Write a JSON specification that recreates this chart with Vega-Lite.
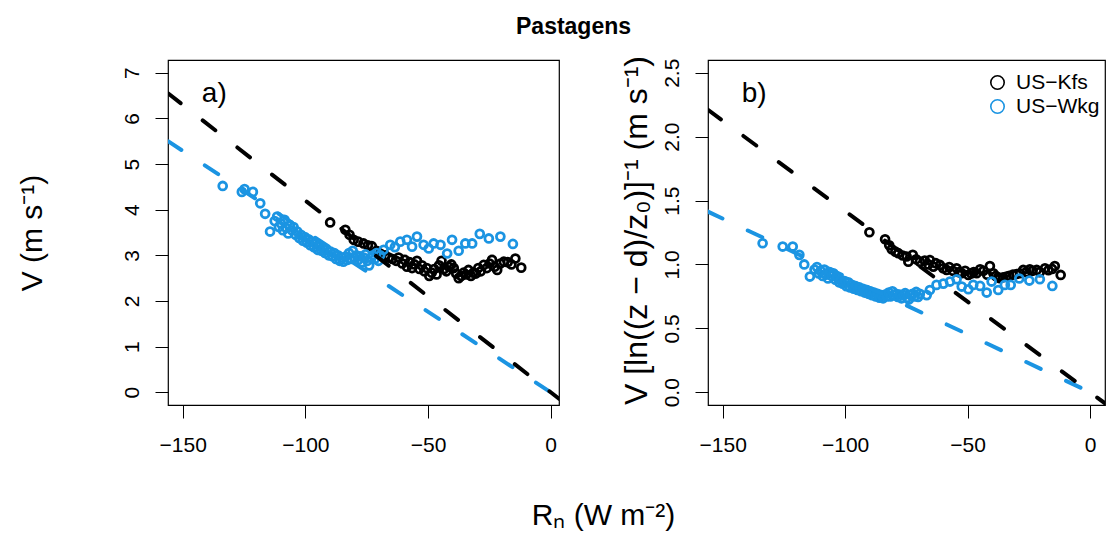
{
  "$schema": "https://vega.github.io/schema/vega-lite/v6.json",
  "autosize": {"type": "none"},
  "padding": {"left": 168, "top": 60, "right": 942, "bottom": 473},
  "background": "white",
  "title": {"text": "Pastagens", "anchor": "start", "frame": "group", "dx": 348, "dy": 20, "offset": 5, "baseline": "alphabetic", "fontSize": 23, "fontWeight": "bold", "font": "Liberation Sans", "color": "black"},
  "config": {
    "font": "Liberation Sans",
    "view": {"stroke": "black", "strokeWidth": 1.2},
    "axis": {"grid": false, "domain": false, "tickColor": "black", "tickSize": 13, "tickWidth": 1, "labelColor": "black", "labelFontSize": 21, "labelFlush": false, "labelOverlap": false, "titleColor": "black", "titleFontWeight": "normal", "titleFontSize": 30}
  },
  "bounds": "flush",
  "spacing": 149,
  "resolve": {"scale": {"x": "independent", "y": "independent", "color": "independent", "stroke": "independent"}, "legend": {"color": "independent"}},
  "datasets": {
    "pa": [
      {"site":"US−Kfs","x":-89.9,"y":3.72},{"site":"US−Kfs","x":-83.7,"y":3.56},{"site":"US−Kfs","x":-82,"y":3.45},{"site":"US−Kfs","x":-80.3,"y":3.34},{"site":"US−Kfs","x":-78.5,"y":3.3},{"site":"US−Kfs","x":-76.3,"y":3.26},{"site":"US−Kfs","x":-74.5,"y":3.22},{"site":"US−Kfs","x":-72.9,"y":3.2},{"site":"US−Kfs","x":-71,"y":3.1},{"site":"US−Kfs","x":-69.5,"y":3.04},{"site":"US−Kfs","x":-67.5,"y":3.0},{"site":"US−Kfs","x":-66,"y":2.95},{"site":"US−Kfs","x":-64.5,"y":2.92},{"site":"US−Kfs","x":-63,"y":2.88},{"site":"US−Kfs","x":-62,"y":2.95},{"site":"US−Kfs","x":-60.5,"y":2.82},{"site":"US−Kfs","x":-59.5,"y":2.9},{"site":"US−Kfs","x":-58.6,"y":2.75},{"site":"US−Kfs","x":-57.5,"y":2.85},{"site":"US−Kfs","x":-56.5,"y":2.72},{"site":"US−Kfs","x":-55.5,"y":2.8},{"site":"US−Kfs","x":-54.5,"y":2.88},{"site":"US−Kfs","x":-53.5,"y":2.7},{"site":"US−Kfs","x":-52.5,"y":2.78},{"site":"US−Kfs","x":-51.5,"y":2.65},{"site":"US−Kfs","x":-50.5,"y":2.72},{"site":"US−Kfs","x":-49.5,"y":2.55},{"site":"US−Kfs","x":-48.5,"y":2.62},{"site":"US−Kfs","x":-47.5,"y":2.7},{"site":"US−Kfs","x":-46.5,"y":2.58},{"site":"US−Kfs","x":-45.5,"y":2.78},{"site":"US−Kfs","x":-44.5,"y":2.88},{"site":"US−Kfs","x":-43.5,"y":2.7},{"site":"US−Kfs","x":-42.5,"y":2.65},{"site":"US−Kfs","x":-41.5,"y":2.75},{"site":"US−Kfs","x":-40.5,"y":2.8},{"site":"US−Kfs","x":-39.5,"y":2.72},{"site":"US−Kfs","x":-38.5,"y":2.6},{"site":"US−Kfs","x":-37.5,"y":2.5},{"site":"US−Kfs","x":-36.5,"y":2.55},{"site":"US−Kfs","x":-35.5,"y":2.62},{"site":"US−Kfs","x":-34.5,"y":2.58},{"site":"US−Kfs","x":-33.5,"y":2.68},{"site":"US−Kfs","x":-32.5,"y":2.55},{"site":"US−Kfs","x":-31.5,"y":2.62},{"site":"US−Kfs","x":-30.5,"y":2.6},{"site":"US−Kfs","x":-29.5,"y":2.72},{"site":"US−Kfs","x":-28.5,"y":2.65},{"site":"US−Kfs","x":-27.3,"y":2.79},{"site":"US−Kfs","x":-26,"y":2.72},{"site":"US−Kfs","x":-24.9,"y":2.82},{"site":"US−Kfs","x":-23.9,"y":2.9},{"site":"US−Kfs","x":-22.8,"y":2.75},{"site":"US−Kfs","x":-21.8,"y":2.68},{"site":"US−Kfs","x":-20.5,"y":2.82},{"site":"US−Kfs","x":-19.1,"y":2.86},{"site":"US−Kfs","x":-17.5,"y":2.85},{"site":"US−Kfs","x":-16,"y":2.8},{"site":"US−Kfs","x":-14.4,"y":2.93},{"site":"US−Kfs","x":-12,"y":2.73},
      {"site":"US−Wkg","x":-133.7,"y":4.52},{"site":"US−Wkg","x":-125.9,"y":4.39},{"site":"US−Wkg","x":-124.8,"y":4.45},{"site":"US−Wkg","x":-121.4,"y":4.39},{"site":"US−Wkg","x":-118.4,"y":4.14},{"site":"US−Wkg","x":-116.4,"y":3.91},{"site":"US−Wkg","x":-114.4,"y":3.52},
      {"site":"US−Wkg","x":-112.5,"y":3.75},{"site":"US−Wkg","x":-111.5,"y":3.85},{"site":"US−Wkg","x":-110.8,"y":3.62},{"site":"US−Wkg","x":-110,"y":3.7},{"site":"US−Wkg","x":-109.2,"y":3.55},{"site":"US−Wkg","x":-108.5,"y":3.78},{"site":"US−Wkg","x":-107.8,"y":3.6},{"site":"US−Wkg","x":-107,"y":3.48},{"site":"US−Wkg","x":-106.3,"y":3.66},{"site":"US−Wkg","x":-105.5,"y":3.55},{"site":"US−Wkg","x":-104.8,"y":3.62},{"site":"US−Wkg","x":-104,"y":3.45},{"site":"US−Wkg","x":-103.3,"y":3.52},{"site":"US−Wkg","x":-102.5,"y":3.38},{"site":"US−Wkg","x":-101.8,"y":3.45},{"site":"US−Wkg","x":-101,"y":3.32},{"site":"US−Wkg","x":-100.2,"y":3.4},{"site":"US−Wkg","x":-99.5,"y":3.28},{"site":"US−Wkg","x":-98.7,"y":3.35},{"site":"US−Wkg","x":-98,"y":3.22},{"site":"US−Wkg","x":-97.2,"y":3.3},{"site":"US−Wkg","x":-96.5,"y":3.18},{"site":"US−Wkg","x":-95.7,"y":3.25},{"site":"US−Wkg","x":-95,"y":3.12},{"site":"US−Wkg","x":-94.2,"y":3.2},{"site":"US−Wkg","x":-93.5,"y":3.1},{"site":"US−Wkg","x":-92.7,"y":3.15},{"site":"US−Wkg","x":-92,"y":3.05},{"site":"US−Wkg","x":-91.2,"y":3.12},{"site":"US−Wkg","x":-90.5,"y":3.0},{"site":"US−Wkg","x":-89.7,"y":3.08},{"site":"US−Wkg","x":-89,"y":2.98},{"site":"US−Wkg","x":-88.2,"y":3.05},{"site":"US−Wkg","x":-87.5,"y":2.92},{"site":"US−Wkg","x":-86.7,"y":3.0},{"site":"US−Wkg","x":-86,"y":2.88},{"site":"US−Wkg","x":-85.2,"y":2.95},{"site":"US−Wkg","x":-84.5,"y":2.86},{"site":"US−Wkg","x":-83.7,"y":2.97},{"site":"US−Wkg","x":-83,"y":2.9},{"site":"US−Wkg","x":-82.2,"y":3.05},{"site":"US−Wkg","x":-81.5,"y":2.92},{"site":"US−Wkg","x":-80.7,"y":3.1},{"site":"US−Wkg","x":-80,"y":2.95},{"site":"US−Wkg","x":-79.2,"y":3.0},{"site":"US−Wkg","x":-78.5,"y":2.9},{"site":"US−Wkg","x":-77.7,"y":2.98},{"site":"US−Wkg","x":-77,"y":2.85},{"site":"US−Wkg","x":-76.2,"y":2.95},{"site":"US−Wkg","x":-75.5,"y":3.02},{"site":"US−Wkg","x":-74.7,"y":2.88},{"site":"US−Wkg","x":-74,"y":2.78},{"site":"US−Wkg","x":-73.2,"y":2.95},{"site":"US−Wkg","x":-72.5,"y":3.0},{"site":"US−Wkg","x":-71.7,"y":2.92},{"site":"US−Wkg","x":-71,"y":3.05},{"site":"US−Wkg","x":-70.2,"y":2.88},{"site":"US−Wkg","x":-69.5,"y":3.0},
      {"site":"US−Wkg","x":-68.1,"y":3.12},{"site":"US−Wkg","x":-65.4,"y":3.23},{"site":"US−Wkg","x":-63.5,"y":3.18},{"site":"US−Wkg","x":-61.3,"y":3.3},{"site":"US−Wkg","x":-58.6,"y":3.34},{"site":"US−Wkg","x":-56.5,"y":3.19},{"site":"US−Wkg","x":-54.5,"y":3.41},{"site":"US−Wkg","x":-51.8,"y":3.23},{"site":"US−Wkg","x":-49.7,"y":3.15},{"site":"US−Wkg","x":-47.7,"y":3.26},{"site":"US−Wkg","x":-44.9,"y":3.23},{"site":"US−Wkg","x":-42.2,"y":3.04},{"site":"US−Wkg","x":-40.2,"y":3.34},{"site":"US−Wkg","x":-37.5,"y":3.1},{"site":"US−Wkg","x":-34.8,"y":3.26},{"site":"US−Wkg","x":-32.0,"y":3.26},{"site":"US−Wkg","x":-28.9,"y":3.47},{"site":"US−Wkg","x":-25.2,"y":3.37},{"site":"US−Wkg","x":-20.5,"y":3.41},{"site":"US−Wkg","x":-15.4,"y":3.25}
    ],
    "pb": [
      {"site":"US−Kfs","x":-90.1,"y":1.252},{"site":"US−Kfs","x":-83.7,"y":1.197},{"site":"US−Kfs","x":-82,"y":1.15},{"site":"US−Kfs","x":-81,"y":1.119},{"site":"US−Kfs","x":-79.5,"y":1.1},{"site":"US−Kfs","x":-78.3,"y":1.088},{"site":"US−Kfs","x":-76.5,"y":1.07},{"site":"US−Kfs","x":-74.9,"y":1.062},{"site":"US−Kfs","x":-74.2,"y":1.022},{"site":"US−Kfs","x":-72.4,"y":1.075},{"site":"US−Kfs","x":-71,"y":1.04},{"site":"US−Kfs","x":-69.5,"y":1.022},{"site":"US−Kfs","x":-67.5,"y":1.03},{"site":"US−Kfs","x":-66,"y":1.0},{"site":"US−Kfs","x":-65.4,"y":1.035},{"site":"US−Kfs","x":-64,"y":0.983},{"site":"US−Kfs","x":-63,"y":1.01},{"site":"US−Kfs","x":-61.3,"y":0.996},{"site":"US−Kfs","x":-60,"y":0.97},{"site":"US−Kfs","x":-58.6,"y":0.957},{"site":"US−Kfs","x":-57.5,"y":0.98},{"site":"US−Kfs","x":-56,"y":0.95},{"site":"US−Kfs","x":-54.5,"y":0.97},{"site":"US−Kfs","x":-53.5,"y":0.94},{"site":"US−Kfs","x":-52.4,"y":0.931},{"site":"US−Kfs","x":-51,"y":0.95},{"site":"US−Kfs","x":-49.7,"y":0.918},{"site":"US−Kfs","x":-48.5,"y":0.93},{"site":"US−Kfs","x":-47.5,"y":0.94},{"site":"US−Kfs","x":-46.3,"y":0.931},{"site":"US−Kfs","x":-44.9,"y":0.962},{"site":"US−Kfs","x":-43.5,"y":0.95},{"site":"US−Kfs","x":-42,"y":0.92},{"site":"US−Kfs","x":-40.9,"y":0.988},{"site":"US−Kfs","x":-39.5,"y":0.931},{"site":"US−Kfs","x":-38.5,"y":0.91},{"site":"US−Kfs","x":-37.5,"y":0.9},{"site":"US−Kfs","x":-36.8,"y":0.892},{"site":"US−Kfs","x":-35.5,"y":0.9},{"site":"US−Kfs","x":-34.1,"y":0.905},{"site":"US−Kfs","x":-33,"y":0.91},{"site":"US−Kfs","x":-31.5,"y":0.92},{"site":"US−Kfs","x":-30,"y":0.925},{"site":"US−Kfs","x":-28.6,"y":0.931},{"site":"US−Kfs","x":-27.3,"y":0.957},{"site":"US−Kfs","x":-26,"y":0.94},{"site":"US−Kfs","x":-24.6,"y":0.962},{"site":"US−Kfs","x":-23.5,"y":0.95},{"site":"US−Kfs","x":-21.8,"y":0.957},{"site":"US−Kfs","x":-20.5,"y":0.94},{"site":"US−Kfs","x":-18.4,"y":0.97},{"site":"US−Kfs","x":-17,"y":0.955},{"site":"US−Kfs","x":-15.5,"y":0.965},{"site":"US−Kfs","x":-14.4,"y":0.988},{"site":"US−Kfs","x":-12,"y":0.918},
      {"site":"US−Wkg","x":-133.7,"y":1.166},{"site":"US−Wkg","x":-125.5,"y":1.14},{"site":"US−Wkg","x":-121.4,"y":1.14},{"site":"US−Wkg","x":-118.7,"y":1.075},{"site":"US−Wkg","x":-116.7,"y":1.0},{"site":"US−Wkg","x":-114.4,"y":0.905},
      {"site":"US−Wkg","x":-112.5,"y":0.96},{"site":"US−Wkg","x":-111.5,"y":0.98},{"site":"US−Wkg","x":-110.8,"y":0.93},{"site":"US−Wkg","x":-110,"y":0.95},{"site":"US−Wkg","x":-109.2,"y":0.91},{"site":"US−Wkg","x":-108.5,"y":0.96},{"site":"US−Wkg","x":-107.8,"y":0.92},{"site":"US−Wkg","x":-107,"y":0.89},{"site":"US−Wkg","x":-106.3,"y":0.94},{"site":"US−Wkg","x":-105.5,"y":0.91},{"site":"US−Wkg","x":-104.8,"y":0.93},{"site":"US−Wkg","x":-104,"y":0.88},{"site":"US−Wkg","x":-103.3,"y":0.9},{"site":"US−Wkg","x":-102.5,"y":0.86},{"site":"US−Wkg","x":-101.8,"y":0.88},{"site":"US−Wkg","x":-101,"y":0.85},{"site":"US−Wkg","x":-100.2,"y":0.87},{"site":"US−Wkg","x":-99.5,"y":0.83},{"site":"US−Wkg","x":-98.7,"y":0.86},{"site":"US−Wkg","x":-98,"y":0.82},{"site":"US−Wkg","x":-97.2,"y":0.84},{"site":"US−Wkg","x":-96.5,"y":0.81},{"site":"US−Wkg","x":-95.7,"y":0.83},{"site":"US−Wkg","x":-95,"y":0.8},{"site":"US−Wkg","x":-94.2,"y":0.82},{"site":"US−Wkg","x":-93.5,"y":0.79},{"site":"US−Wkg","x":-92.7,"y":0.81},{"site":"US−Wkg","x":-92,"y":0.78},{"site":"US−Wkg","x":-91.2,"y":0.8},{"site":"US−Wkg","x":-90.5,"y":0.77},{"site":"US−Wkg","x":-89.7,"y":0.79},{"site":"US−Wkg","x":-89,"y":0.76},{"site":"US−Wkg","x":-88.2,"y":0.78},{"site":"US−Wkg","x":-87.5,"y":0.75},{"site":"US−Wkg","x":-86.7,"y":0.77},{"site":"US−Wkg","x":-86,"y":0.74},{"site":"US−Wkg","x":-85.2,"y":0.76},{"site":"US−Wkg","x":-84.5,"y":0.735},{"site":"US−Wkg","x":-83.7,"y":0.765},{"site":"US−Wkg","x":-83,"y":0.75},{"site":"US−Wkg","x":-82.2,"y":0.78},{"site":"US−Wkg","x":-81.5,"y":0.75},{"site":"US−Wkg","x":-80.7,"y":0.79},{"site":"US−Wkg","x":-80,"y":0.76},{"site":"US−Wkg","x":-79.2,"y":0.77},{"site":"US−Wkg","x":-78.5,"y":0.745},{"site":"US−Wkg","x":-77.7,"y":0.765},{"site":"US−Wkg","x":-77,"y":0.735},{"site":"US−Wkg","x":-76.2,"y":0.76},{"site":"US−Wkg","x":-75.5,"y":0.775},{"site":"US−Wkg","x":-74.7,"y":0.74},{"site":"US−Wkg","x":-74,"y":0.725},{"site":"US−Wkg","x":-73.2,"y":0.76},{"site":"US−Wkg","x":-72.5,"y":0.77},{"site":"US−Wkg","x":-71.7,"y":0.75},{"site":"US−Wkg","x":-71,"y":0.785},{"site":"US−Wkg","x":-70.2,"y":0.745},{"site":"US−Wkg","x":-69.5,"y":0.77},
      {"site":"US−Wkg","x":-66.7,"y":0.76},{"site":"US−Wkg","x":-65.4,"y":0.8},{"site":"US−Wkg","x":-62.7,"y":0.84},{"site":"US−Wkg","x":-59.9,"y":0.85},{"site":"US−Wkg","x":-57.2,"y":0.866},{"site":"US−Wkg","x":-54.5,"y":0.884},{"site":"US−Wkg","x":-52.4,"y":0.827},{"site":"US−Wkg","x":-49.7,"y":0.806},{"site":"US−Wkg","x":-47.7,"y":0.84},{"site":"US−Wkg","x":-44.9,"y":0.832},{"site":"US−Wkg","x":-42.2,"y":0.78},{"site":"US−Wkg","x":-40.2,"y":0.866},{"site":"US−Wkg","x":-37.5,"y":0.8},{"site":"US−Wkg","x":-34.8,"y":0.84},{"site":"US−Wkg","x":-32.4,"y":0.84},{"site":"US−Wkg","x":-28.9,"y":0.89},{"site":"US−Wkg","x":-24.8,"y":0.874},{"site":"US−Wkg","x":-20.5,"y":0.884},{"site":"US−Wkg","x":-15.4,"y":0.832}
    ],
    "la": [
      {"site":"US−Wkg","x":-156,"y":5.5},{"site":"US−Wkg","x":3.4,"y":-0.12},
      {"site":"US−Kfs","x":-156,"y":6.55},{"site":"US−Kfs","x":3.4,"y":-0.143}
    ],
    "lb": [
      {"site":"US−Wkg","x":-156,"y":1.413},{"site":"US−Wkg","x":6.1,"y":-0.055},
      {"site":"US−Kfs","x":-156,"y":2.21},{"site":"US−Kfs","x":6.1,"y":-0.0865}
    ],
    "ta": [{"x":-142.2,"y":6.36,"label":"a)"}],
    "tb": [{"x":-142.2,"y":2.274,"label":"b)"}]
  },
  "hconcat": [
    {
      "width": 391,
      "height": 345,
      "layer": [
        {
          "data": {"name": "pa"},
          "mark": {"type": "point", "shape": "circle", "filled": false, "size": 62, "strokeWidth": 2.8, "opacity": 1},
          "encoding": {
            "x": {"field": "x", "type": "quantitative", "scale": {"domain": [-156, 3.4], "nice": false, "zero": false},
              "axis": {"values": [-150, -100, -50, 0], "format": "d", "labelPadding": 27, "labelBaseline": "middle", "labelAlign": "center",
                "title": "Rₙ (W m⁻²)", "titleX": 435, "titleY": 119, "titleAlign": "center", "titleBaseline": "alphabetic", "titleAngle": 0}},
            "y": {"field": "y", "type": "quantitative", "scale": {"domain": [-0.28, 7.28], "nice": false, "zero": false},
              "axis": {"values": [0, 1, 2, 3, 4, 5, 6, 7], "format": "d", "labelAngle": -90, "labelAlign": "center", "labelBaseline": "middle", "labelPadding": 23,
                "title": "V (m s⁻¹)", "titleX": -136, "titleY": 172.5, "titleAngle": -90, "titleAlign": "center", "titleBaseline": "middle"}},
            "color": {"field": "site", "type": "nominal", "scale": {"domain": ["US−Kfs", "US−Wkg"], "range": ["#000000", "#1b94e2"]}, "legend": null}
          }
        },
        {
          "data": {"name": "la"},
          "mark": {"type": "line", "strokeWidth": 4, "strokeDash": [16, 28], "strokeCap": "round", "clip": true},
          "encoding": {
            "x": {"field": "x", "type": "quantitative"},
            "y": {"field": "y", "type": "quantitative"},
            "stroke": {"field": "site", "type": "nominal", "scale": {"domain": ["US−Wkg", "US−Kfs"], "range": ["#1b94e2", "#000000"]}, "legend": null}
          }
        },
        {
          "data": {"name": "ta"},
          "mark": {"type": "text", "align": "left", "baseline": "alphabetic", "fontSize": 28, "color": "black"},
          "encoding": {
            "x": {"field": "x", "type": "quantitative"},
            "y": {"field": "y", "type": "quantitative"},
            "text": {"field": "label"}
          }
        }
      ]
    },
    {
      "width": 397,
      "height": 345,
      "layer": [
        {
          "data": {"name": "pb"},
          "mark": {"type": "point", "shape": "circle", "filled": false, "size": 62, "strokeWidth": 2.8, "opacity": 1},
          "encoding": {
            "x": {"field": "x", "type": "quantitative", "scale": {"domain": [-156, 6.1], "nice": false, "zero": false},
              "axis": {"values": [-150, -100, -50, 0], "format": "d", "labelPadding": 27, "labelBaseline": "middle", "labelAlign": "center", "title": null}},
            "y": {"field": "y", "type": "quantitative", "scale": {"domain": [-0.1, 2.6], "nice": false, "zero": false},
              "axis": {"values": [0, 0.5, 1, 1.5, 2, 2.5], "format": ".1f", "labelAngle": -90, "labelAlign": "center", "labelBaseline": "middle", "labelPadding": 23,
                "title": "V [ln((z − d)/z₀)]⁻¹    (m s⁻¹)", "titleFontSize": 32, "titleX": -72, "titleY": 170, "titleAngle": -90, "titleAlign": "center", "titleBaseline": "middle"}},
            "color": {"field": "site", "type": "nominal", "scale": {"domain": ["US−Kfs", "US−Wkg"], "range": ["#000000", "#1b94e2"]},
              "legend": {"orient": "none", "legendX": 279, "legendY": 12, "title": null, "labelFontSize": 21, "labelColor": "black", "symbolType": "circle", "symbolSize": 180, "symbolStrokeWidth": 1.6, "labelOffset": 8, "rowPadding": 2, "padding": 0}}
          }
        },
        {
          "data": {"name": "lb"},
          "mark": {"type": "line", "strokeWidth": 4, "strokeDash": [16, 28], "strokeCap": "round", "clip": true},
          "encoding": {
            "x": {"field": "x", "type": "quantitative"},
            "y": {"field": "y", "type": "quantitative"},
            "stroke": {"field": "site", "type": "nominal", "scale": {"domain": ["US−Wkg", "US−Kfs"], "range": ["#1b94e2", "#000000"]}, "legend": null}
          }
        },
        {
          "data": {"name": "tb"},
          "mark": {"type": "text", "align": "left", "baseline": "alphabetic", "fontSize": 28, "color": "black"},
          "encoding": {
            "x": {"field": "x", "type": "quantitative"},
            "y": {"field": "y", "type": "quantitative"},
            "text": {"field": "label"}
          }
        }
      ]
    }
  ]
}
